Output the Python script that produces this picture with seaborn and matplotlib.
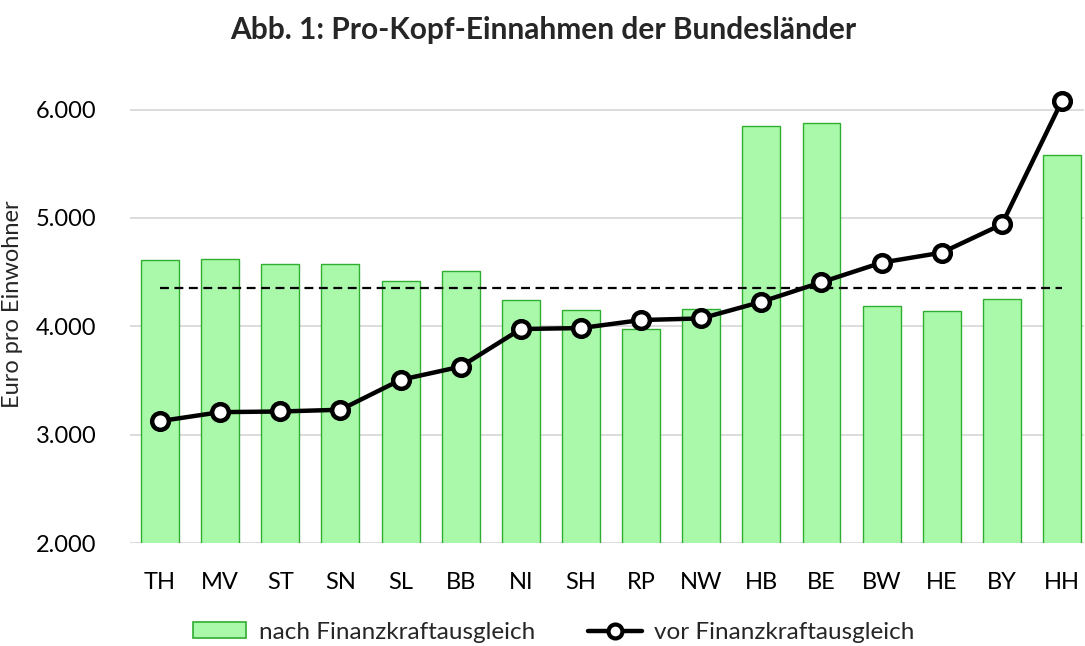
import matplotlib
matplotlib.use("Agg")
import matplotlib.pyplot as plt
import matplotlib.ticker as mticker
from matplotlib.patches import Patch
from matplotlib.lines import Line2D
import seaborn as sns
import pandas as pd
import numpy as np

laender = ["TH", "MV", "ST", "SN", "SL", "BB", "NI", "SH", "RP", "NW", "HB", "BE", "BW", "HE", "BY", "HH"]
nach_fka = [4610, 4619, 4573, 4579, 4420, 4509, 4242, 4150, 3972, 4156, 5852, 5873, 4183, 4140, 4254, 5585]
vor_fka = [3125, 3208, 3214, 3230, 3506, 3628, 3975, 3984, 4058, 4073, 4226, 4407, 4588, 4680, 4941, 6082]
durchschnitt = 4358

sns.set_theme(style="white")
plt.rcParams['font.family'] = ['Lato', 'DejaVu Sans']

df = pd.DataFrame({"Land": laender, "nach": nach_fka, "vor": vor_fka})

BAR_FC = "#aaf9aa"
BAR_EC = "#2fae2f"

fig = plt.figure(figsize=(10.85, 6.46), dpi=100)
ax = fig.add_axes([0.1198, 0.1594, 0.8795, 0.738])

sns.barplot(data=df, x="Land", y="nach", ax=ax, color=BAR_FC, edgecolor=BAR_EC,
            linewidth=1.0, width=0.63, saturation=1, zorder=2)
for p in ax.patches:
    p.set_facecolor(BAR_FC)

xs = np.arange(len(laender))
ax.plot(xs, vor_fka, color="black", lw=3.2, marker="o", markersize=12,
        markerfacecolor="white", markeredgecolor="black", markeredgewidth=3.2,
        zorder=4, clip_on=False)
ax.plot([xs[0], xs[-1]], [durchschnitt, durchschnitt], color="black", lw=1.6,
        ls=(0, (4, 2.5)), zorder=3)

ax.set_ylim(2000, 6400)
ax.set_xlim(-0.5, 15.37)
ax.set_yticks([2000, 3000, 4000, 5000, 6000])
ax.yaxis.set_major_formatter(mticker.FuncFormatter(lambda v, p: f"{int(v):,}".replace(",", ".")))
ax.grid(axis="y", color="#d9d9d9", lw=1.3, zorder=0)
ax.set_axisbelow(True)
for s in ax.spines.values():
    s.set_visible(False)
ax.tick_params(axis="both", length=0, labelsize=17, colors="black")
ax.tick_params(axis="y", pad=24)
ax.tick_params(axis="x", pad=21)
ax.set_xlabel("")
ax.set_ylabel("Euro pro Einwohner", fontsize=17)
ax.yaxis.set_label_coords(-0.1125, 0.5)

fig.text(0.501, 0.953, "Abb. 1: Pro-Kopf-Einnahmen der Bundesländer", fontsize=21.5,
         fontweight="bold", ha="center", va="center")

handles = [
    Patch(facecolor=BAR_FC, edgecolor=BAR_EC, linewidth=1.2),
    Line2D([0], [0], color="black", lw=3.2, marker="o", markersize=10,
           markerfacecolor="white", markeredgecolor="black", markeredgewidth=3.0),
]
labels = ["nach Finanzkraftausgleich", "vor Finanzkraftausgleich"]
leg = ax.legend(handles, labels, loc="center", bbox_to_anchor=(0.444, -0.187),
                ncol=2, frameon=False, fontsize=17.5, handlelength=2.2,
                handleheight=0.6, columnspacing=2.2, handletextpad=0.5)

fig.savefig("out.png", dpi=100)
